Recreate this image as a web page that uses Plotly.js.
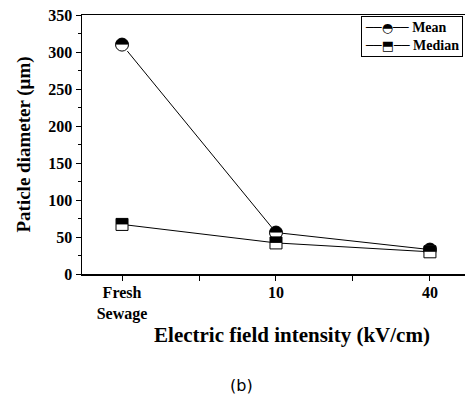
<!DOCTYPE html>
<html>
<head>
<meta charset="utf-8">
<script src="https://cdn.plot.ly/plotly-3.0.1.min.js"></script>
<style>html,body{margin:0;padding:0;background:#fff;overflow:hidden;width:465px;height:394px;}</style>
</head>
<body>
<div id="chart" style="width:502px;height:394px;"></div>
<script>
const categories = ['Fresh<br>Sewage', '10', '40'];
const seriesNames = ['Mean', 'Median'];
const meanValues = [310, 56, 33];
const medianValues = [67, 42, 30];
const yTicks = [0, 50, 100, 150, 200, 250, 300, 350];

const xIndex = categories.map((c, i) => i);
const serif = 'Liberation Serif, Times New Roman, serif';
const yRange = [0, 350];
const M = {l: 82, r: 0, t: 15, b: 120};
const H = 394 - M.t - M.b;
const pxToY = px => px * (yRange[1] - yRange[0]) / H;   // style offset for half-filled markers

const circSize = 13, sqSize = 12;
const circHalf = pxToY(circSize / 4), sqHalf = pxToY(sqSize / 4);

const data = [
  // Mean: black disc, white lower half, black outline
  {type: 'scatter', mode: 'lines+markers', name: seriesNames[0], x: xIndex, y: meanValues, yaxis: 'y',
   line: {color: '#000', width: 1}, marker: {symbol: 'circle', size: circSize, color: '#000', line: {width: 0}}, cliponaxis: false},
  {type: 'scatter', mode: 'markers', name: seriesNames[0], x: xIndex, y: meanValues, yaxis: 'y2',
   marker: {symbol: 'line-ew', size: circSize / 1.4, color: '#fff', line: {width: circSize / 2, color: '#fff'}}, cliponaxis: false},
  {type: 'scatter', mode: 'markers', name: seriesNames[0], x: xIndex, y: meanValues, yaxis: 'y3',
   marker: {symbol: 'circle-open', size: circSize, color: '#000', line: {width: 1, color: '#000'}}, cliponaxis: false},
  // Median: white square with outline, black upper half
  {type: 'scatter', mode: 'lines+markers', name: seriesNames[1], x: xIndex, y: medianValues, yaxis: 'y3',
   line: {color: '#000', width: 1}, marker: {symbol: 'square', size: sqSize, color: '#fff', line: {width: 1, color: '#000'}}, cliponaxis: false},
  {type: 'scatter', mode: 'markers', name: seriesNames[1], x: xIndex, y: medianValues, yaxis: 'y4',
   marker: {symbol: 'line-ew', size: sqSize / 1.4, color: '#000', line: {width: sqSize / 2, color: '#000'}}, cliponaxis: false}
];

const glyphs = ['\u25D3', '\u2B12'];
const legendText = seriesNames.map((n, k) =>
  '<span style="font-family:DejaVu Sans;font-size:13px;font-weight:normal">\u2500\u2500' + glyphs[k] + '\u2500\u2500</span> ' + n
).join('<br>');

const hiddenY = r => ({overlaying: 'y', anchor: 'x', range: r, visible: false, fixedrange: true});

const layout = {
  width: 502, height: 394,
  margin: M,
  paper_bgcolor: '#fff', plot_bgcolor: '#fff',
  showlegend: false,
  xaxis: {
    range: [-0.26, 2.468], tickmode: 'array', tickvals: xIndex, ticktext: categories,
    ticks: 'outside', ticklen: 5, tickwidth: 1, tickcolor: '#000', ticklabelstandoff: -2,
    minor: {tickmode: 'array', tickvals: [0.5, 1.5], ticks: 'outside', ticklen: 5, tickcolor: '#000'},
    showline: true, linecolor: '#000', linewidth: 1.5, mirror: true, showgrid: false, zeroline: false,
    tickfont: {family: serif, size: 16, color: '#000', weight: 'bold'},
    title: {text: 'Electric field intensity (kV/cm)', font: {family: serif, size: 21, color: '#000', weight: 'bold'}, standoff: 6}
  },
  yaxis: {
    range: yRange, tickmode: 'array', tickvals: yTicks,
    ticks: 'outside', ticklen: 5, tickwidth: 1, tickcolor: '#000',
    minor: {dtick: 25, ticks: 'outside', ticklen: 3, tickcolor: '#000'},
    showline: true, linecolor: '#000', linewidth: 1.5, showgrid: false, zeroline: false,
    tickfont: {family: serif, size: 16, color: '#000', weight: 'bold'},
    title: {text: 'Paticle diameter (\u03BCm)', font: {family: serif, size: 19, color: '#000', weight: 'bold'}, standoff: 12}
  },
  yaxis2: hiddenY([yRange[0] + circHalf, yRange[1] + circHalf]),
  yaxis3: hiddenY(yRange),
  yaxis4: hiddenY([yRange[0] - sqHalf, yRange[1] - sqHalf]),
  annotations: [
    {
      text: legendText, xref: 'paper', yref: 'paper', x: 0.9071, y: 0.997, xanchor: 'right', yanchor: 'top',
      align: 'left', showarrow: false, bordercolor: '#000', borderwidth: 1, borderpad: 3, bgcolor: '#fff',
      font: {family: serif, size: 14, color: '#000', weight: 'bold'}
    },
    {
      text: '(b)', xref: 'paper', yref: 'paper', x: 0.3786, y: -0.43, xanchor: 'center', yanchor: 'middle',
      showarrow: false, font: {family: 'DejaVu Sans', size: 16, color: '#000'}
    }
  ]
};

Plotly.newPlot('chart', data, layout, {displayModeBar: false, staticPlot: true});
</script>
</body>
</html>
